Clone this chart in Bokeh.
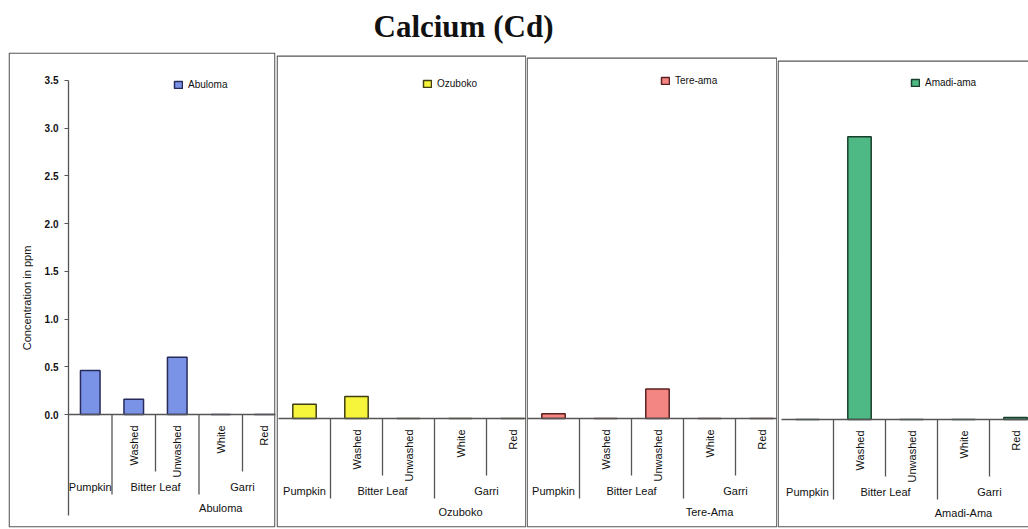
import math

from bokeh.core.properties import value
from bokeh.embed import file_html
from bokeh.layouts import column, row
from bokeh.models import (ColumnDataSource, FixedTicker, Label, Legend, LegendItem,
                          LinearAxis, NumeralTickFormatter, Range1d)
from bokeh.plotting import figure
from bokeh.resources import INLINE

# ---------------------------------------------------------------- data
TITLE = "Calcium (Cd)"
Y_LABEL = "Concentration in ppm"

SAMPLES = ["Pumpkin", "Washed", "Unwashed", "White", "Red"]
SAMPLE_CROP = ["Pumpkin", "Bitter Leaf", "Bitter Leaf", "Garri", "Garri"]

SITES = ["Abuloma", "Ozuboko", "Tere-ama", "Amadi-ama"]
SITE_AXIS_NAMES = ["Abuloma", "Ozuboko", "Tere-Ama", "Amadi-Ama"]

ABULOMA = [0.46, 0.16, 0.60, 0.0, 0.0]
OZUBOKO = [0.15, 0.23, 0.0, 0.0, 0.0]
TERE_AMA = [0.05, 0.0, 0.31, 0.0, 0.0]
AMADI_AMA = [0.0, 2.96, 0.0, 0.0, 0.02]

Y_TICKS = [0.0, 0.5, 1.0, 1.5, 2.0, 2.5, 3.0, 3.5]

# ---------------------------------------------------------------- styling
FILLS = ["#7b93e6", "#f7f43c", "#f38683", "#4fb985"]
EDGES = ["#262b5c", "#3f3f12", "#5c2020", "#183f2c"]
INK = "#111111"
RULE = "#555555"
SANS = value("Liberation Sans")

PX_PER_UNIT = 95.5          # vertical scale shared by all panels
PANEL_H = 485
TOP_PAD = 8                 # frames share one top edge inside the row
BOTTOM_PAD = 2
PANEL_W = [276, 250, 251, 251]
LEFT_PAD = [8, 0, 0, 0]
RIGHT_PAD = [1, 0, 0, 0]
BOX_DROP = [0, 3, 5, 8]      # each panel's box starts a little lower
BOX_RIGHT_OPEN = [False, False, False, True]
ORIGIN_PX = [60, 2, 1, 4]    # frame left -> first category edge
CAT_PX = [43.5, 52, 52, 52]  # width of one category
ZERO_PX = [362, 366, 366, 367]  # frame top -> y = 0
LEGEND_POS = [(165, 437), (146, 438), (134, 441), (133, 439)]

BAR_WIDTH = 0.45
SHORT_TICK = 57   # divider inside a crop group (px below the axis)
LONG_TICK = 80    # divider between crop groups
AXIS_TAIL = 101   # value axis continues below zero
SITE_LABEL_X = 3.5
BOX_LW = 1.3


def crop_spans():
    spans = []
    for i, crop in enumerate(SAMPLE_CROP):
        if spans and spans[-1][0] == crop:
            spans[-1][2] = i + 1
        else:
            spans.append([crop, i, i + 1])
    return spans


def make_panel(k, values):
    frame_w = PANEL_W[k] - LEFT_PAD[k] - RIGHT_PAD[k]
    frame_h = PANEL_H - TOP_PAD - BOTTOM_PAD
    x0 = -ORIGIN_PX[k] / CAT_PX[k]
    x1 = (frame_w - ORIGIN_PX[k]) / CAT_PX[k]
    y1 = ZERO_PX[k] / PX_PER_UNIT
    y0 = -(frame_h - ZERO_PX[k]) / PX_PER_UNIT

    p = figure(width=PANEL_W[k], height=PANEL_H,
               x_range=Range1d(x0, x1), y_range=Range1d(y0, y1),
               x_axis_type=None, y_axis_type=None,
               toolbar_location=None, output_backend="svg",
               min_border_left=LEFT_PAD[k], min_border_right=RIGHT_PAD[k],
               min_border_top=TOP_PAD, min_border_bottom=BOTTOM_PAD)
    p.outline_line_color = None
    p.background_fill_color = "white"
    p.border_fill_color = "white"

    # panel box, drawn just inside the frame
    half = BOX_LW / 2
    right_px = frame_w + 4 if BOX_RIGHT_OPEN[k] else frame_w - half
    p.quad(left=[x0 + half / CAT_PX[k]], right=[x0 + right_px / CAT_PX[k]],
           top=[y1 - (BOX_DROP[k] + half) / PX_PER_UNIT],
           bottom=[y0 + half / PX_PER_UNIT],
           fill_color=None, line_color=RULE, line_width=BOX_LW)

    # bars
    src = ColumnDataSource(dict(x=[i + 0.5 for i in range(len(SAMPLES))],
                                top=values, sample=SAMPLES))
    bars = p.vbar(x="x", top="top", bottom=0, width=BAR_WIDTH, source=src,
                  fill_color=FILLS[k], line_color=EDGES[k], line_width=1.5)

    # category axis line at zero
    n = len(SAMPLES)
    p.segment(x0=[0], y0=[0], x1=[n], y1=[0], line_color=RULE, line_width=1.3)

    # dividers below the category axis
    dx, dlen = [], []
    for b in range(1, n + 1):
        long_div = b == n or SAMPLE_CROP[b] != SAMPLE_CROP[b - 1]
        dx.append(b)
        dlen.append(-(LONG_TICK if long_div else SHORT_TICK) / PX_PER_UNIT)
    p.segment(x0=dx, y0=[0] * len(dx), x1=dx, y1=dlen,
              line_color=RULE, line_width=1.3)

    # inner level: treatments, written upward
    tx = [i + 0.5 for i, s in enumerate(SAMPLES) if s != SAMPLE_CROP[i]]
    tt = [s for i, s in enumerate(SAMPLES) if s != SAMPLE_CROP[i]]
    p.text(x=tx, y=[0] * len(tx), text=tt, angle=math.pi / 2, y_offset=11,
           text_align="right", text_baseline="middle", text_font=SANS,
           text_font_size="11px", text_color=INK)

    # middle level: crops
    spans = crop_spans()
    p.text(x=[(a + b) / 2 for _, a, b in spans], y=[0] * len(spans),
           text=[c for c, _, _ in spans], y_offset=72,
           text_align="center", text_baseline="middle", text_font=SANS,
           text_font_size="11px", text_color=INK)

    # outer level: sampling site
    p.text(x=[SITE_LABEL_X], y=[0], text=[SITE_AXIS_NAMES[k]], y_offset=93,
           text_align="center", text_baseline="middle", text_font=SANS,
           text_font_size="11px", text_color=INK)

    if k == 0:
        yaxis = LinearAxis(fixed_location=0,
                           ticker=FixedTicker(ticks=Y_TICKS, minor_ticks=[]),
                           formatter=NumeralTickFormatter(format="0.0"),
                           bounds=(-AXIS_TAIL / PX_PER_UNIT, Y_TICKS[-1]),
                           axis_label=Y_LABEL)
        yaxis.axis_line_color = RULE
        yaxis.axis_line_width = 1.3
        yaxis.major_tick_line_color = RULE
        yaxis.major_tick_out = 4
        yaxis.major_tick_in = 0
        yaxis.minor_tick_out = 0
        yaxis.major_label_standoff = 6
        yaxis.major_label_text_font = "Liberation Sans"
        yaxis.major_label_text_font_size = "10px"
        yaxis.major_label_text_font_style = "bold"
        yaxis.major_label_text_color = INK
        yaxis.axis_label_standoff = 9
        yaxis.axis_label_text_font = "Liberation Sans"
        yaxis.axis_label_text_font_size = "11px"
        yaxis.axis_label_text_font_style = "normal"
        yaxis.axis_label_text_color = INK
        p.add_layout(yaxis, "left")

    legend = Legend(items=[LegendItem(label=SITES[k], renderers=[bars], index=0)],
                    location=LEGEND_POS[k], padding=0, margin=0, spacing=0,
                    glyph_width=10, glyph_height=9, label_height=9,
                    label_standoff=5, border_line_alpha=0,
                    background_fill_alpha=0,
                    label_text_font="Liberation Sans",
                    label_text_font_size="10px", label_text_color=INK)
    p.add_layout(legend, "center")
    return p


head = figure(width=1028, height=44, x_range=Range1d(0, 1), y_range=Range1d(0, 1),
              x_axis_type=None, y_axis_type=None, toolbar_location=None,
              output_backend="svg", min_border=0)
head.outline_line_color = None
head.add_layout(Label(x=373, y=18, x_units="screen", y_units="screen", text=TITLE,
                      text_font="Liberation Serif", text_font_size="31px",
                      text_font_style="bold", text_color="#111111",
                      text_baseline="middle"))

panels = [make_panel(k, v) for k, v in
          enumerate([ABULOMA, OZUBOKO, TERE_AMA, AMADI_AMA])]

layout = column(head, row(*panels, spacing=0), spacing=0)

with open("out.html", "w") as f:
    f.write(file_html(layout, INLINE))
